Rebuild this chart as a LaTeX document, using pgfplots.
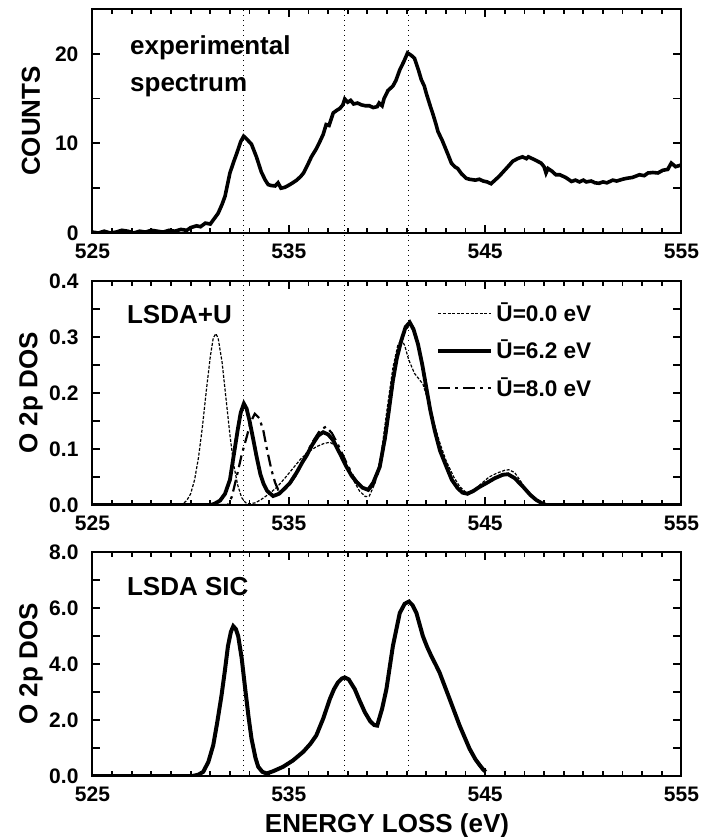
\documentclass[border=0pt]{standalone}
\usepackage{fontspec}
\setmainfont{Liberation Sans}
\usepackage{pgfplots}
\pgfplotsset{compat=1.18}
\usetikzlibrary{calc}

\pgfplotsset{
  panel/.style={
    scale only axis, width=294.5pt, height=112pt,
    xmin=525, xmax=555,
    xtick={525,535,545,555}, xticklabels={525,535,545,555},
    minor x tick num=9,
    major tick length=4pt, minor tick length=2.4pt,
    axis line style={line width=1pt},
    major tick style={line width=0.9pt,black},
    minor tick style={line width=0.9pt,black},
    tick label style={font=\bfseries\fontsize{10.5}{12}\selectfont},
    xticklabel style={yshift=-2pt},
    yticklabel style={xshift=-3.5pt},
    ylabel style={at={(axis description cs:-0.1044,0.5)}, anchor=center,
      font=\bfseries\fontsize{13}{15}\selectfont},
  },
}
\tikzset{lbl/.style={anchor=base west, inner sep=0pt, font=\bfseries\fontsize{13}{15}\selectfont}}

\begin{document}
\begin{tikzpicture}

% experimental spectrum
\begin{axis}[panel, name=top, at={(0,271.5pt)}, anchor=south west,
  ymin=0, ymax=25, ytick={0,5,10,15,20}, yticklabels={0,,10,,20},
  ylabel={COUNTS}]
\addplot[black, line width=1.8pt] coordinates {
(525.0,0.1) (525.3,0.0) (525.6,0.2) (525.9,0.0) (526.2,0.1) (526.5,0.3) (526.8,0.2)
(527.1,0.0) (527.4,0.2) (527.7,0.1) (528.0,0.3) (528.3,0.2) (528.6,0.1) (528.9,0.3)
(529.2,0.2) (529.5,0.4) (529.8,0.3) (530.0,0.6) (530.3,0.8) (530.5,0.7) (530.75,1.1)
(531.0,1.0) (531.2,1.6) (531.4,2.2) (531.6,3.2) (531.75,4.1) (532.0,6.7) (532.2,8.0)
(532.35,8.9) (532.55,10.2) (532.7,10.8) (532.85,10.5) (533.1,9.9) (533.35,8.5)
(533.6,6.8) (533.8,5.9) (533.95,5.4) (534.1,5.3) (534.3,5.25) (534.45,5.6) (534.6,5.0)
(534.8,5.1) (534.97,5.3) (535.2,5.6) (535.4,5.9) (535.6,6.3) (535.75,6.7) (536.0,7.8)
(536.15,8.5) (536.4,9.4) (536.58,10.2) (536.75,11.0) (536.9,12.1) (537.05,12.0)
(537.26,13.4) (537.45,13.7) (537.6,13.9) (537.75,14.3) (537.85,14.95) (538.0,14.6)
(538.15,14.8) (538.3,14.4) (538.5,14.5) (538.7,14.3) (538.9,14.2) (539.1,14.2)
(539.3,14.0) (539.5,14.1) (539.6,14.5) (539.75,14.2) (539.85,15.0) (540.05,15.9)
(540.3,16.4) (540.45,17.0) (540.65,18.2) (540.85,19.1) (541.05,20.1) (541.25,19.8)
(541.4,19.5) (541.6,18.2) (541.75,17.1) (541.9,16.4) (542.0,15.6) (542.2,14.2)
(542.35,13.2) (542.5,12.1) (542.6,11.3) (542.8,10.4) (542.95,9.6) (543.1,8.8)
(543.28,7.8) (543.45,7.4) (543.6,7.2) (543.8,6.6) (544.04,6.1) (544.2,6.0) (544.5,5.9)
(544.7,6.0) (544.9,5.8) (545.1,5.7) (545.3,5.5) (545.5,5.9) (545.7,6.3) (545.95,6.9)
(546.2,7.5) (546.4,8.0) (546.65,8.3) (546.9,8.5) (547.1,8.3) (547.2,8.5) (547.5,8.2)
(547.85,7.8) (548.0,7.4) (548.1,6.7) (548.2,7.2) (548.4,6.9) (548.6,6.5) (548.8,6.5)
(549.1,6.2) (549.4,5.75) (549.6,5.9) (549.8,5.7) (550.0,5.9) (550.15,5.7) (550.4,5.8)
(550.6,5.6) (550.8,5.55) (551.0,5.7) (551.2,5.6) (551.5,5.9) (551.7,5.8) (552.0,6.0)
(552.2,6.1) (552.5,6.2) (552.86,6.5) (553.1,6.4) (553.3,6.7) (553.54,6.75) (553.8,6.7)
(554.05,7.0) (554.3,7.1) (554.48,7.8) (554.7,7.4) (555.0,7.6)
};
\node[lbl] at (axis cs:526.9,19.9) {experimental};
\node[lbl] at (axis cs:526.9,15.8) {spectrum};
\end{axis}

% LSDA+U
\begin{axis}[panel, name=mid, at={(0,135.5pt)}, anchor=south west,
  ymin=0, ymax=0.4, ytick={0,0.05,0.1,0.15,0.2,0.25,0.3,0.35,0.4},
  yticklabels={0.0,,0.1,,0.2,,0.3,,0.4},
  ylabel={O 2p DOS},
  legend style={at={(axis cs:542.5,0.368)}, anchor=north west, draw=none, fill=none,
    font=\bfseries\fontsize{11.3}{13}\selectfont, row sep=4.6pt, inner sep=0pt,
    nodes={inner sep=1.6pt}},
  legend cell align=left,
  legend image code/.code={\draw[#1] (0pt,0pt) -- (26.5pt,0pt);}]
\addplot[black, line width=0.6pt, dash pattern=on 1.5pt off 0.8pt] coordinates {
(525,0) (529.4,0) (529.6,0.002) (529.8,0.008) (530.0,0.02) (530.2,0.045) (530.4,0.085)
(530.6,0.14) (530.8,0.205) (531.0,0.265) (531.15,0.298) (531.28,0.306) (531.4,0.298)
(531.6,0.255) (531.8,0.19) (532.0,0.125) (532.2,0.07) (532.4,0.035) (532.6,0.013)
(532.8,0.004) (533.0,0.002) (533.3,0.004) (533.6,0.01) (534.0,0.02) (534.4,0.032)
(534.8,0.048) (535.2,0.065) (535.6,0.082) (536.0,0.095) (536.4,0.104) (536.8,0.11)
(537.1,0.112) (537.4,0.105) (537.8,0.08) (538.2,0.05) (538.6,0.025) (538.9,0.015)
(539.1,0.016) (539.4,0.04) (539.7,0.09) (540.0,0.17) (540.3,0.245) (540.55,0.285)
(540.73,0.296) (540.9,0.285) (541.1,0.26) (541.4,0.235) (541.83,0.216) (542.1,0.185)
(542.35,0.151) (542.7,0.11) (543.0,0.08) (543.4,0.05) (543.7,0.033) (544.04,0.022)
(544.4,0.026) (544.8,0.038) (545.2,0.05) (545.6,0.057) (546.0,0.062) (546.2,0.063)
(546.5,0.058) (546.8,0.043) (547.1,0.025) (547.5,0.01) (547.9,0.002) (548.2,0) (555,0)
};
\addlegendentry{Ū=0.0 eV}
\addplot[black, line width=1.9pt] coordinates {
(525,0) (531.0,0) (531.2,0.002) (531.5,0.008) (531.75,0.02) (532.0,0.045) (532.2,0.09)
(532.4,0.135) (532.55,0.165) (532.71,0.181) (532.85,0.172) (533.0,0.15) (533.2,0.115)
(533.36,0.086) (533.55,0.055) (533.7,0.039) (533.9,0.025) (534.2,0.016) (534.5,0.02)
(534.8,0.03) (535.05,0.039) (535.4,0.058) (535.7,0.077) (535.9,0.088) (536.2,0.108)
(536.5,0.124) (536.75,0.130) (537.0,0.126) (537.25,0.116) (537.6,0.092) (537.94,0.068)
(538.2,0.052) (538.45,0.041) (538.75,0.031) (539.04,0.027) (539.3,0.04) (539.63,0.068)
(539.9,0.12) (540.1,0.17) (540.3,0.222) (540.5,0.262) (540.73,0.294) (540.95,0.318)
(541.16,0.326) (541.35,0.314) (541.58,0.287) (541.8,0.25) (542.0,0.210) (542.2,0.17)
(542.43,0.133) (542.7,0.097) (543.03,0.068) (543.3,0.045) (543.6,0.03) (543.85,0.022)
(544.1,0.02) (544.4,0.025) (544.7,0.032) (545.06,0.039) (545.5,0.048) (545.9,0.054)
(546.16,0.055) (546.5,0.048) (546.92,0.033) (547.3,0.018) (547.6,0.009) (547.9,0.003)
(548.1,0) (555,0)
};
\addlegendentry{Ū=6.2 eV}
\addplot[black, line width=1.1pt, dash pattern=on 6pt off 2.5pt on 1.5pt off 2.5pt] coordinates {
(525,0) (531.9,0) (532.1,0.015) (532.34,0.05) (532.6,0.09) (532.85,0.121) (533.05,0.148)
(533.27,0.163) (533.5,0.155) (533.7,0.133) (533.9,0.097) (534.12,0.062) (534.3,0.04)
(534.46,0.027) (534.7,0.025) (535.0,0.035) (535.4,0.055) (535.8,0.085) (536.2,0.112)
(536.6,0.134) (536.9,0.140) (537.2,0.128) (537.5,0.108) (537.9,0.078) (538.3,0.05)
(538.7,0.032) (539.0,0.025) (539.3,0.035) (539.63,0.065) (539.9,0.115) (540.1,0.165)
(540.3,0.218) (540.5,0.26) (540.73,0.292) (540.95,0.314) (541.16,0.322) (541.35,0.312)
(541.58,0.286) (541.8,0.252) (542.0,0.212) (542.2,0.172) (542.43,0.136) (542.7,0.1)
(543.03,0.07) (543.3,0.047) (543.6,0.031) (543.85,0.023) (544.1,0.021) (544.4,0.026)
(544.7,0.033) (545.06,0.04) (545.5,0.049) (545.9,0.055) (546.16,0.056) (546.5,0.049)
(546.92,0.034) (547.3,0.019) (547.6,0.009) (547.9,0.003) (548.1,0) (555,0)
};
\addlegendentry{Ū=8.0 eV}
\node[lbl] at (axis cs:526.74,0.324) {LSDA+U};
\end{axis}

% LSDA SIC
\begin{axis}[panel, name=bot, at={(0,0)}, anchor=south west,
  ymin=0, ymax=8, ytick={0,1,2,3,4,5,6,7,8},
  yticklabels={0.0,,2.0,,4.0,,6.0,,8.0},
  ylabel={O 2p DOS},
  xlabel={ENERGY LOSS (eV)},
  xlabel style={at={(axis description cs:0.5,0)}, anchor=base, yshift=-28.3pt,
    font=\bfseries\fontsize{13}{15}\selectfont}]
\addplot[black, line width=2pt] coordinates {
(525,0) (530.1,0) (530.4,0.05) (530.64,0.15) (530.9,0.5) (531.15,1.1) (531.35,1.9)
(531.57,2.87) (531.75,3.8) (531.9,4.64) (532.05,5.15) (532.17,5.35) (532.3,5.25)
(532.42,5.0) (532.6,4.2) (532.76,3.22) (532.95,2.1) (533.1,1.33) (533.3,0.65)
(533.44,0.33) (533.65,0.15) (533.87,0.09) (534.2,0.17) (534.71,0.33) (535.2,0.55)
(535.73,0.86) (536.1,1.15) (536.4,1.45) (536.75,2.05) (537.09,2.75) (537.3,3.1)
(537.5,3.34) (537.7,3.48) (537.85,3.52) (538.05,3.45) (538.36,3.1) (538.6,2.7)
(538.87,2.28) (539.15,1.95) (539.35,1.82) (539.5,1.8) (539.75,2.4) (539.97,3.1)
(540.3,4.64) (540.65,5.82) (540.9,6.15) (541.12,6.23) (541.3,6.1) (541.5,5.82)
(541.83,4.99) (542.05,4.6) (542.26,4.28) (542.5,3.95) (542.68,3.69) (543.19,2.75)
(543.7,1.8) (544.2,0.98) (544.5,0.6) (544.72,0.39) (544.9,0.23) (545.03,0.15)
};
\node[lbl] at (axis cs:526.74,6.44) {LSDA SIC};
\end{axis}

% reference lines through all panels
\foreach \f in {0.2567,0.4283,0.5367}{
  \draw[black, line width=0.5pt, dotted]
    ($(bot.south west)!\f!(bot.south east)$) -- ($(top.north west)!\f!(top.north east)$);
}

\pgfresetboundingbox
\path (-46.25pt,-30.5pt) rectangle (304.25pt,388pt);
\end{tikzpicture}
\end{document}
